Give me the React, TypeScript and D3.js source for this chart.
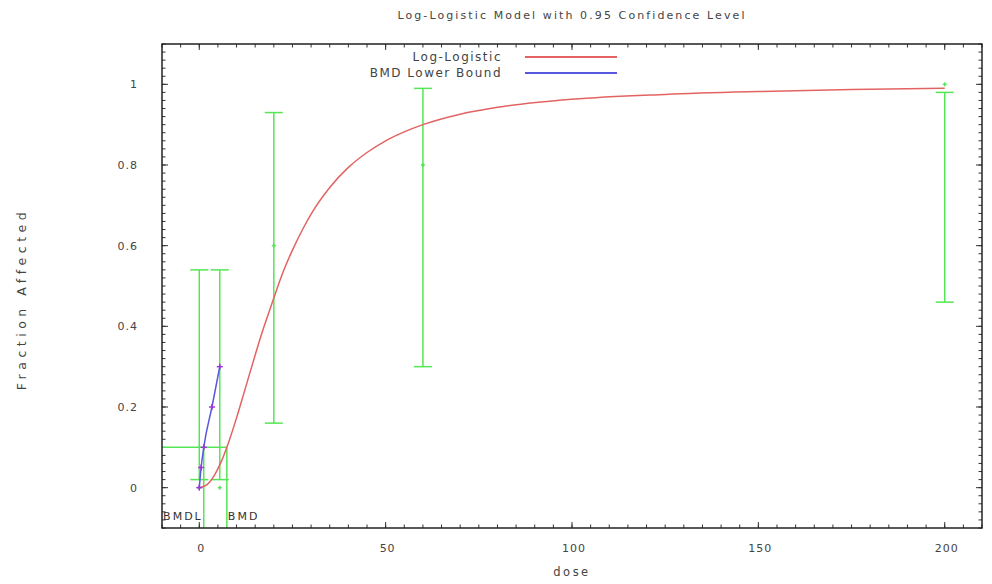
import React from 'react';
import * as d3 from 'd3';

// observed data with confidence limits
const doses = [0, 5.5, 20, 60, 200];
const observed = [0, 0, 0.6, 0.8, 1.0];
const lowerCI = [0.02, 0.02, 0.16, 0.3, 0.46];
const upperCI = [0.54, 0.54, 0.93, 0.99, 0.98];

// fitted log-logistic curve
const curveDose = [0, 2, 4, 6, 8, 10, 12, 15, 17, 20, 22, 25, 28, 30, 35, 40, 45, 50, 55, 60, 70, 80, 100, 125, 150, 175, 200];
const curveResp = [0, 0.007, 0.03, 0.067, 0.116, 0.173, 0.235, 0.329, 0.389, 0.47, 0.523, 0.589, 0.645, 0.678, 0.744, 0.794, 0.831, 0.86, 0.882, 0.9, 0.926, 0.943, 0.963, 0.975, 0.982, 0.987, 0.99];

// BMD lower bound curve
const bmdlDose = [0, 0.5, 1.2, 3.4, 5.5];
const bmdlResp = [0, 0.05, 0.1, 0.2, 0.3];

const bmr = 0.1;
const bmd = 7.4;
const bmdl = 1.2;

const xTicks = [0, 50, 100, 150, 200];
const yTicks = [0, 0.2, 0.4, 0.6, 0.8, 1];

const W = 992;
const H = 584;
const frame = { left: 162, right: 982, top: 44, bottom: 528 };

const font = '"DejaVu Sans", Verdana, sans-serif';
const textColor = '#444';
const green = '#55e655';
const red = '#e36363';
const blue = '#5757e0';

export default function App() {
  const x = d3.scaleLinear().domain([-10, 210]).range([frame.left, frame.right]);
  const y = d3.scaleLinear().domain([-0.1, 1.1]).range([frame.bottom, frame.top]);

  const line = d3.line<[number, number]>()
    .x(d => x(d[0]))
    .y(d => y(d[1]))
    .curve(d3.curveMonotoneX);

  const modelPath = line(curveDose.map((d, i) => [d, curveResp[i]] as [number, number])) || '';
  const bmdlPath = line(bmdlDose.map((d, i) => [d, bmdlResp[i]] as [number, number])) || '';

  const xMinor = d3.range(-10, 211, 5);
  const yMinor = d3.range(-5, 56).map(k => k * 0.02);

  const txt = { fontFamily: font, fill: textColor };

  return (
    <svg width={W} height={H} style={{ position: 'fixed', left: 0, top: 0, background: '#fff' }}>
      {/* title */}
      <text x={572} y={19} textAnchor="middle" fontSize={11} letterSpacing={2.1} {...txt}>
        Log-Logistic Model with 0.95 Confidence Level
      </text>

      {/* ticks, mirrored on all four sides */}
      <g stroke="#333" strokeWidth={1}>
        {xMinor.map(t => (
          <g key={'xm' + t}>
            <line x1={x(t)} x2={x(t)} y1={frame.bottom} y2={frame.bottom - 3.5} />
            <line x1={x(t)} x2={x(t)} y1={frame.top} y2={frame.top + 3.5} />
          </g>
        ))}
        {yMinor.map((t, i) => (
          <g key={'ym' + i}>
            <line x1={frame.left} x2={frame.left + 3.5} y1={y(t)} y2={y(t)} />
            <line x1={frame.right} x2={frame.right - 3.5} y1={y(t)} y2={y(t)} />
          </g>
        ))}
        {xTicks.map(t => (
          <g key={'xM' + t}>
            <line x1={x(t)} x2={x(t)} y1={frame.bottom} y2={frame.bottom - 6} />
            <line x1={x(t)} x2={x(t)} y1={frame.top} y2={frame.top + 6} />
          </g>
        ))}
        {yTicks.map(t => (
          <g key={'yM' + t}>
            <line x1={frame.left} x2={frame.left + 6} y1={y(t)} y2={y(t)} />
            <line x1={frame.right} x2={frame.right - 6} y1={y(t)} y2={y(t)} />
          </g>
        ))}
      </g>

      {/* tick labels */}
      {xTicks.map(t => (
        <text key={'xl' + t} x={x(t) + 2} y={552} textAnchor="middle" fontSize={11} letterSpacing={1} {...txt}>
          {t}
        </text>
      ))}
      {yTicks.map(t => (
        <text key={'yl' + t} x={138} y={y(t) + 4} textAnchor="end" fontSize={11} letterSpacing={1} {...txt}>
          {t}
        </text>
      ))}

      {/* axis titles */}
      <text x={572} y={576} textAnchor="middle" fontSize={11.5} letterSpacing={2.5} {...txt}>dose</text>
      <text transform={`translate(26,${299}) rotate(-90)`} textAnchor="middle"
        fontSize={12.5} letterSpacing={4.5} {...txt}>
        Fraction Affected
      </text>

      {/* error bars */}
      <g stroke={green} strokeWidth={1.5}>
        {doses.map((d, i) => (
          <g key={'eb' + d}>
            <line x1={x(d)} x2={x(d)} y1={y(lowerCI[i])} y2={y(upperCI[i])} />
            <line x1={x(d) - 9} x2={x(d) + 9} y1={y(lowerCI[i])} y2={y(lowerCI[i])} />
            <line x1={x(d) - 9} x2={x(d) + 9} y1={y(upperCI[i])} y2={y(upperCI[i])} />
            <line x1={x(d) - 2} x2={x(d) + 2} y1={y(observed[i])} y2={y(observed[i])} />
            <line x1={x(d)} x2={x(d)} y1={y(observed[i]) - 2} y2={y(observed[i]) + 2} />
          </g>
        ))}
      </g>

      {/* BMD / BMDL lines */}
      <g stroke={green} strokeWidth={1.5}>
        <line x1={frame.left} x2={x(bmd)} y1={y(bmr)} y2={y(bmr)} />
        <line x1={x(bmd)} x2={x(bmd)} y1={y(bmr)} y2={frame.bottom} />
        <line x1={x(bmdl)} x2={x(bmdl)} y1={y(bmr)} y2={frame.bottom} />
      </g>
      <text x={x(bmdl) - 1} y={520} textAnchor="end" fontSize={11} letterSpacing={2} fontFamily={font} fill="#333">BMDL</text>
      <text x={x(bmd) + 1} y={520} textAnchor="start" fontSize={11} letterSpacing={2} fontFamily={font} fill="#333">BMD</text>

      {/* model curve */}
      <path d={modelPath} fill="none" stroke={red} strokeWidth={1.5} />

      {/* BMDL curve */}
      <path d={bmdlPath} fill="none" stroke={blue} strokeWidth={1.5} />
      <g stroke="#a030e0" strokeWidth={1.5}>
        {bmdlDose.map((d, i) => (
          <g key={'bm' + i}>
            <line x1={x(d) - 3} x2={x(d) + 3} y1={y(bmdlResp[i])} y2={y(bmdlResp[i])} />
            <line x1={x(d)} x2={x(d)} y1={y(bmdlResp[i]) - 3} y2={y(bmdlResp[i]) + 3} />
          </g>
        ))}
      </g>

      {/* legend */}
      <text x={502} y={61} textAnchor="end" fontSize={12} letterSpacing={1.5} {...txt}>Log-Logistic</text>
      <line x1={525} x2={617} y1={57} y2={57} stroke={red} strokeWidth={2} />
      <text x={502} y={77} textAnchor="end" fontSize={12} letterSpacing={1.5} {...txt}>BMD Lower Bound</text>
      <line x1={525} x2={617} y1={73} y2={73} stroke={blue} strokeWidth={2} />

      {/* frame */}
      <rect x={frame.left} y={frame.top} width={frame.right - frame.left} height={frame.bottom - frame.top}
        fill="none" stroke="#222" strokeWidth={1.5} />
    </svg>
  );
}
